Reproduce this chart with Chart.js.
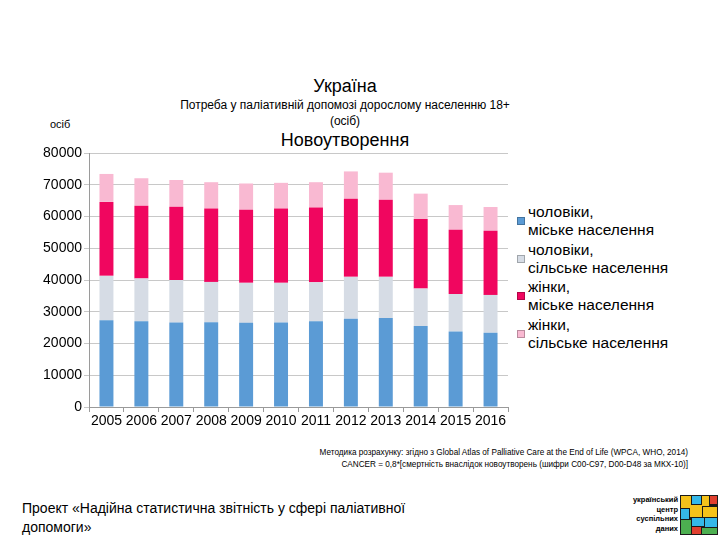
<!DOCTYPE html>
<html lang="uk">
<head>
<meta charset="utf-8">
<script src="https://cdn.jsdelivr.net/npm/chart.js@4.4.1/dist/chart.umd.min.js"></script>
<style>
    html, body { margin: 0; padding: 0; background: #fff; }
    body { width: 720px; height: 540px; position: relative; overflow: hidden; font-family: "Liberation Sans", Arial, sans-serif; color: #000; }
    .abs { position: absolute; }
    #titles { left: 140px; width: 410px; top: 75px; text-align: center; }
    #titles .t1 { font-size: 18px; line-height: 22px; }
    #titles .t2 { font-size: 12px; line-height: 16px; }
    #titles .t3 { font-size: 18px; line-height: 22px; }
    #unit { left: 50px; top: 118px; font-size: 11px; }
    #chartBox { left: 0; top: 140px; width: 515px; height: 300px; }
    #legend { left: 517px; top: 203px; }
    .lg-item { position: relative; padding-left: 11px; font-size: 15.5px; line-height: 18px; margin-bottom: 1.5px; }
    .lg-box { position: absolute; left: 0; top: 14px; width: 6px; height: 6px; border: 1px solid rgba(0,0,0,0.25); }
    #note { right: 32px; top: 447px; text-align: right; font-size: 8.2px; line-height: 12px; }
    #footer { left: 22px; top: 499px; font-size: 14px; line-height: 19px; }
    #logoText { right: 42px; top: 495px; text-align: right; font-size: 7.5px; font-weight: bold; line-height: 9.5px; }
    #logo { left: 680px; top: 495px; width: 38px; height: 40px; }
</style>
</head>
<body>
<div id="titles" class="abs">
    <div class="t1">Україна</div>
    <div class="t2">Потреба у паліативній допомозі дорослому населенню 18+<br>(осіб)</div>
    <div class="t3">Новоутворення</div>
</div>
<div id="unit" class="abs">осіб</div>
<div id="chartBox" class="abs"><canvas id="chart"></canvas></div>
<div id="legend" class="abs"></div>
<div id="note" class="abs">Методика розрахунку: згідно з Global Atlas of Palliative Care at the End of Life (WPCA, WHO, 2014)<br>CANCER = 0,8*[смертність внаслідок новоутворень (шифри C00-C97, D00-D48 за МКХ-10)]</div>
<div id="footer" class="abs">Проект «Надійна статистична звітність у сфері паліативної<br>допомоги»</div>
<div id="logoText" class="abs">український<br>центр<br>суспільних<br>даних</div>
<canvas id="logo" class="abs" width="38" height="40"></canvas>

<script>
const years = ['2005', '2006', '2007', '2008', '2009', '2010', '2011', '2012', '2013', '2014', '2015', '2016'];

const menUrban   = [27300, 27000, 26600, 26700, 26500, 26600, 27000, 27800, 28000, 25500, 23800, 23400];
const menRural   = [14000, 13500, 13400, 12700, 12600, 12500, 12300, 13200, 13000, 11800, 11800, 11900];
const womenUrban = [23300, 22900, 23100, 23100, 23000, 23400, 23500, 24600, 24300, 21900, 20200, 20200];
const womenRural = [8800, 8650, 8400, 8300, 8300, 8100, 8000, 8600, 8500, 8000, 7800, 7500];

const seriesNames = [
    ['чоловіки,', 'міське населення'],
    ['чоловіки,', 'сільське населення'],
    ['жінки,', 'міське населення'],
    ['жінки,', 'сільське населення']
];
const yTicks = [0, 10000, 20000, 30000, 40000, 50000, 60000, 70000, 80000];

const colors = ['#5b9bd5', '#d6dce5', '#f0065f', '#f9b9d2'];
const series = [menUrban, menRural, womenUrban, womenRural];

const datasets = series.map((data, i) => ({
    label: seriesNames[i].join(' '),
    data,
    backgroundColor: colors[i],
    borderWidth: 0,
    barPercentage: 0.4,
    categoryPercentage: 1.0
}));

const ctx = document.getElementById('chart').getContext('2d');
const chart = new Chart(ctx, {
    type: 'bar',
    data: { labels: years, datasets },
    options: {
        responsive: true,
        maintainAspectRatio: false,
        animation: false,
        layout: { padding: { top: 13, right: 7, left: 0, bottom: 0 } },
        plugins: {
            legend: { display: false },
            tooltip: { enabled: false }
        },
        scales: {
            x: {
                stacked: true,
                grid: { drawOnChartArea: false, drawTicks: true, tickLength: 5, color: '#9a9a9a' },
                border: { color: '#9a9a9a' },
                ticks: { color: '#000', font: { family: 'Liberation Sans', size: 14 }, padding: 1, maxRotation: 0, autoSkip: false },
                afterFit: scale => { scale.height = 33; }
            },
            y: {
                stacked: true,
                min: 0,
                max: 80000,
                afterBuildTicks: scale => { scale.ticks = yTicks.map(v => ({ value: v })); },
                grid: { color: '#c8c8c8', tickLength: 5 },
                border: { color: '#9a9a9a' },
                ticks: {
                    color: '#000',
                    font: { family: 'Liberation Sans', size: 14 },
                    padding: 2,
                    callback: v => String(v)
                },
                afterFit: scale => { scale.width = 89; }
            }
        }
    }
});

// html legend with two-line labels
const legendEl = document.getElementById('legend');
chart.data.datasets.forEach((ds, i) => {
    const item = document.createElement('div');
    item.className = 'lg-item';
    const box = document.createElement('span');
    box.className = 'lg-box';
    box.style.background = ds.backgroundColor;
    item.appendChild(box);
    item.appendChild(document.createTextNode(seriesNames[i][0]));
    item.appendChild(document.createElement('br'));
    item.appendChild(document.createTextNode(seriesNames[i][1]));
    legendEl.appendChild(item);
});

// small logo mosaic
const lg = document.getElementById('logo').getContext('2d');
lg.fillStyle = '#1a1a1a';
lg.fillRect(0, 0, 38, 40);
const tiles = [
    [1, 1, 10, 12, '#f4c21b'], [12, 1, 9, 8, '#35b8e8'], [22, 1, 7, 10, '#f4c21b'], [30, 1, 7, 8, '#e0402f'],
    [1, 14, 8, 10, '#35b8e8'], [10, 10, 12, 12, '#f4c21b'], [23, 12, 14, 10, '#f4c21b'],
    [1, 25, 10, 14, '#4caf50'], [12, 23, 12, 8, '#35b8e8'], [25, 23, 12, 9, '#35b8e8'],
    [12, 32, 9, 7, '#e0402f'], [22, 33, 15, 6, '#4caf50']
];
tiles.forEach(([x, y, w, h, c]) => { lg.fillStyle = c; lg.fillRect(x, y, w, h); });
</script>
</body>
</html>
